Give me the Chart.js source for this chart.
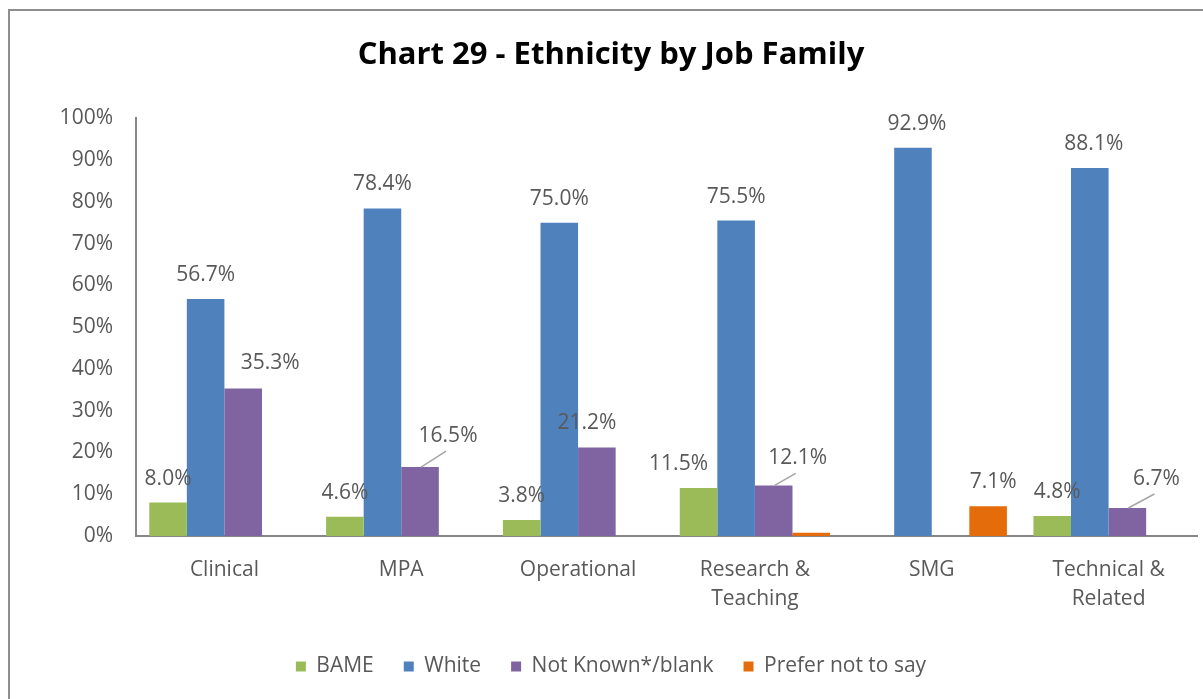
<!DOCTYPE html>
<html>
<head>
<meta charset="utf-8">
<title>Chart 29 - Ethnicity by Job Family</title>
<script src="https://cdn.jsdelivr.net/npm/chart.js@4.4.1/dist/chart.umd.min.js"></script>
<style>
    html, body { margin: 0; padding: 0; background: #ffffff; }
    #frame {
        position: absolute; left: 8px; top: 9px; width: 1200px; height: 700px;
        border-left: 2px solid #8e8e8e; border-top: 2px solid #8e8e8e;
    }
    #wrap { position: absolute; left: 0; top: 0; width: 1203px; height: 699px; }
</style>
</head>
<body>
<div id="frame"></div>
<div id="wrap"><canvas id="ethnicityChart" width="1203" height="699"></canvas></div>
<script>
// Job families and share of staff per ethnicity group (%)
const jobFamilies = ['Clinical', 'MPA', 'Operational', ['Research &', 'Teaching'], 'SMG', ['Technical &', 'Related']];
const bame = [8.0, 4.6, 3.8, 11.5, null, 4.8];
const white = [56.7, 78.4, 75.0, 75.5, 92.9, 88.1];
const notKnown = [35.3, 16.5, 21.2, 12.1, null, 6.7];
const preferNot = [null, null, null, 0.8, 7.1, null];
const yTicks = [0, 10, 20, 30, 40, 50, 60, 70, 80, 90, 100];

const textGrey = '#595959';
const axisGrey = '#868686';
const fontFamily = "'Open Sans', 'DejaVu Sans', sans-serif";

// label tweaks: [datasetIndex, categoryIndex] -> shift in px, optional leader line
const labelNudge = {
    '2-0': { dx: 27, dy: -2 },
    '2-1': { dx: 28, dy: -7, leader: true },
    '2-2': { dx: -10, dy: 0 },
    '0-3': { dx: -20, dy: 0 },
    '2-3': { dx: 24, dy: -3, leader: true },
    '3-4': { dx: 5, dy: 0 },
    '0-5': { dx: 5, dy: 0 },
    '2-5': { dx: 29, dy: -5, leader: true },
    '1-5': { dx: 4, dy: 0 },
    '1-4': { dx: 4, dy: 0 }
};
const hiddenLabels = ['3-3'];

// draws the value labels above each bar, like the spreadsheet's data labels
const valueLabels = {
    id: 'valueLabels',
    afterDatasetsDraw(chart) {
        const ctx = chart.ctx;
        ctx.save();
        ctx.font = '21px ' + fontFamily;
        ctx.fillStyle = textGrey;
        ctx.textAlign = 'center';
        ctx.textBaseline = 'middle';
        chart.data.datasets.forEach((ds, di) => {
            const meta = chart.getDatasetMeta(di);
            meta.data.forEach((bar, ci) => {
                const v = ds.data[ci];
                const key = di + '-' + ci;
                if (v === null || hiddenLabels.includes(key)) return;
                const n = labelNudge[key] || { dx: 0, dy: 0 };
                const lx = bar.x + n.dx;
                const ly = bar.y - 24 + n.dy;
                if (n.leader) {
                    ctx.strokeStyle = '#a6a6a6';
                    ctx.lineWidth = 1.5;
                    ctx.beginPath();
                    ctx.moveTo(bar.x + 1, bar.y);
                    ctx.lineTo(lx - 2, ly + 15);
                    ctx.stroke();
                }
                ctx.fillText(v.toFixed(1) + '%', lx, ly);
            });
        });
        ctx.restore();
    }
};

const ctx = document.getElementById('ethnicityChart').getContext('2d');

new Chart(ctx, {
    type: 'bar',
    data: {
        labels: jobFamilies,
        datasets: [
            { label: 'BAME', data: bame, backgroundColor: '#9bbb59' },
            { label: 'White', data: white, backgroundColor: '#4f81bd' },
            { label: 'Not Known*/blank', data: notKnown, backgroundColor: '#8064a2' },
            { label: 'Prefer not to say', data: preferNot, backgroundColor: '#e46c0a' }
        ]
    },
    options: {
        responsive: false,
        animation: false,
        layout: { padding: { left: 25, right: 6, top: 0, bottom: 12 } },
        datasets: {
            bar: { categoryPercentage: 0.85, barPercentage: 1.0, borderWidth: 0 }
        },
        scales: {
            x: {
                grid: { display: false },
                border: { display: true, color: axisGrey, width: 2 },
                ticks: {
                    color: textGrey,
                    font: { family: fontFamily, size: 21, lineHeight: 1.4 },
                    padding: 11,
                    maxRotation: 0
                },
                afterFit(scale) { scale.height = 90; }
            },
            y: {
                min: 0,
                max: 100,
                grid: { display: false },
                border: { display: true, color: axisGrey, width: 2 },
                afterBuildTicks(scale) { scale.ticks = yTicks.map(v => ({ value: v })); },
                ticks: {
                    color: textGrey,
                    font: { family: fontFamily, size: 21 },
                    padding: 15,
                    callback: v => v + '%'
                },
                afterFit(scale) { scale.width = 111; }
            }
        },
        plugins: {
            title: {
                display: true,
                text: 'Chart 29 - Ethnicity by Job Family',
                color: '#000000',
                font: { family: "'Open Sans', sans-serif", size: 31, weight: 'bold' },
                padding: { top: 37, bottom: 44 }
            },
            legend: {
                position: 'bottom',
                labels: {
                    boxWidth: 10,
                    boxHeight: 10,
                    color: textGrey,
                    font: { family: fontFamily, size: 21 },
                    padding: 30
                }
            },
            tooltip: { enabled: false }
        }
    },
    plugins: [valueLabels]
});
</script>
</body>
</html>
